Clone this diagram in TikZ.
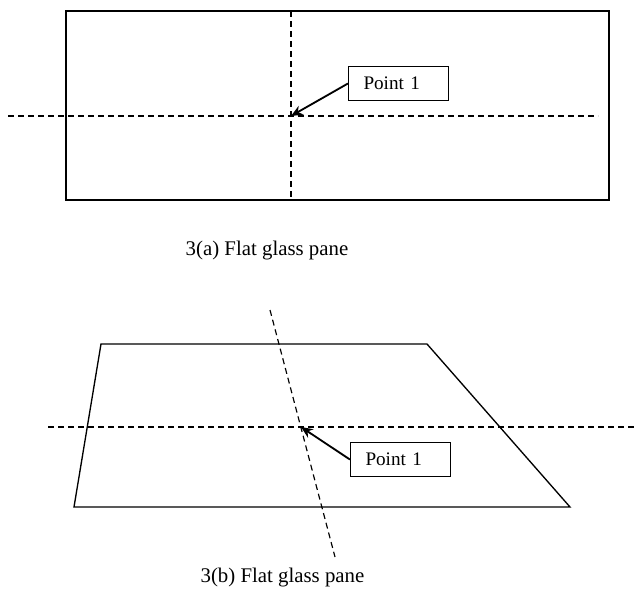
\documentclass[tikz,border=0pt]{standalone}
\usepackage{fontspec}
\setmainfont{Liberation Serif}
\usetikzlibrary{arrows.meta}

\begin{document}
\begin{tikzpicture}[x=0.6pt,y=-0.6pt,
        pane/.style={line width=0.8pt},
        axis/.style={line width=0.7pt,dash pattern=on 3.6pt off 2.4pt},
        tag/.style={draw,line width=0.7pt,minimum height=20pt,inner ysep=0pt,inner xsep=9pt,
            text width=42pt,align=left,font=\fontsize{11.5}{13}\selectfont},
        caption/.style={font=\fontsize{12.5}{15}\selectfont},
        pointer/.style={line width=1.1pt,-{Stealth[length=7pt,width=6pt]}}]
    \useasboundingbox (0,0) rectangle (634,591);
    % 3(a) flat pane
    \draw[pane] (66,11) rectangle (609,200);
    \draw[axis] (291,11) -- (291,200);
    \draw[axis] (8,116) -- (598,116);
    \coordinate (pa) at (291,116);
    \node[tag] (taga) at (398.5,83.5) {Point 1};
    \draw[pointer] (taga.west) -- (pa);
    \node[caption] (capa) at (267,251) {3(a) Flat glass pane};
    % 3(b) skewed pane
    \draw[pane] (101,344) -- (427,344) -- (570,507) -- (74,507) -- cycle;
    \draw[axis] (48,427) -- (634,427);
    \draw[axis] (270,310) -- (335,557);
    \coordinate (pb) at (301,427);
    \node[tag] (tagb) at (400.5,459.5) {Point 1};
    \draw[pointer] (tagb.west) -- (pb);
    \node[caption] (capb) at (282.5,578) {3(b) Flat glass pane};
\end{tikzpicture}
\end{document}
